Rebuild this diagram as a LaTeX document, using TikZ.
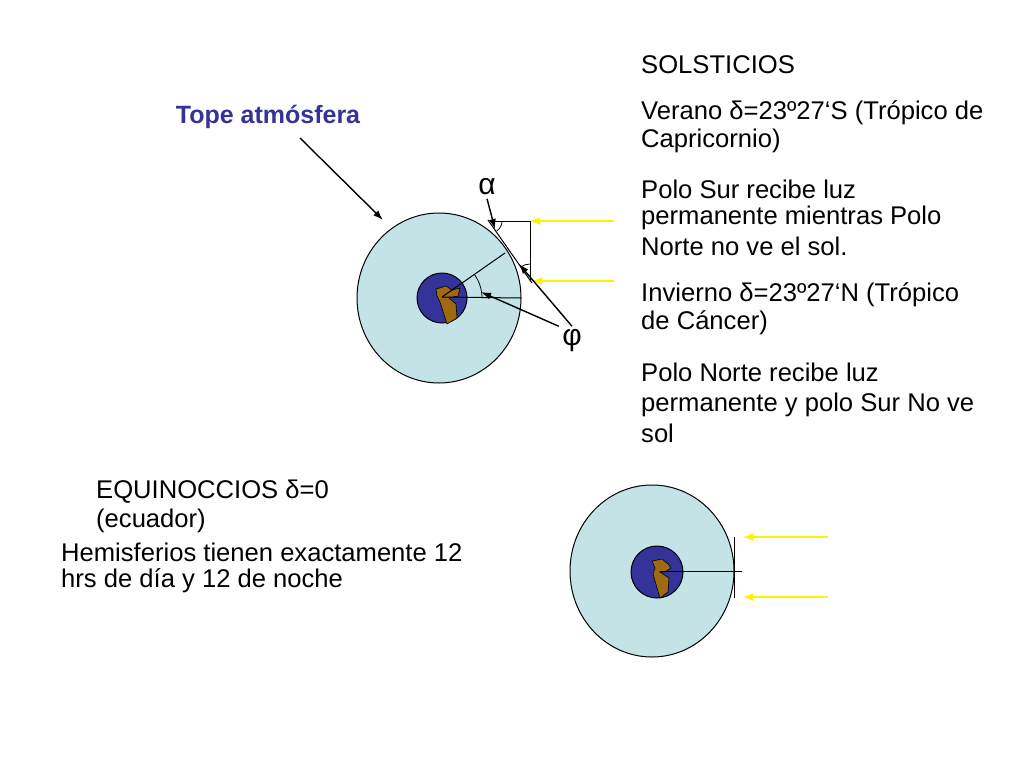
\documentclass[tikz,border=0pt]{standalone}
\usepackage{fontspec}
\setmainfont{Liberation Sans}
\usetikzlibrary{arrows.meta}
\definecolor{atmc}{HTML}{C4E3E6}
\definecolor{corec}{HTML}{33339A}
\definecolor{landc}{HTML}{A06A10}
\definecolor{topec}{HTML}{333399}
\newcommand{\bq}{\symbol{"60}}
\begin{document}
\begin{tikzpicture}[x=1pt,y=-1pt,
 atm/.style={draw=black,fill=atmc,line width=1pt},
 core/.style={draw=black,fill=corec,line width=1pt},
 land/.style={draw=black,fill=landc,line width=0.6pt},
 ray/.style={yellow,line width=1.4pt,-{Latex[length=10pt,width=8pt]}},
 ptr/.style={black,line width=1.4pt,-{Latex[length=10pt,width=7pt]}},
 txt/.style={anchor=west,font=\fontsize{25.6}{28}\selectfont,inner sep=0pt}]
\useasboundingbox (0,0) rectangle (1024,768);
% first earth
\draw[atm] (439,298) ellipse [x radius=82,y radius=85];
\draw[core] (442,298) circle (25);
\draw[land] (436,289) -- (446,286) -- (452,290) -- (460,288) -- (458,296) -- (449,298) -- (456,304) -- (457,318) -- (447,324) -- (440,302) -- (437,296) -- cycle;
\coordinate (c1) at (442,297);
\draw[line width=1pt] (c1) -- (505,253);
\draw[line width=1pt] (c1) -- (521,298);
\draw[line width=1pt] (488,220) -- (532,283);
\draw[line width=1pt] (490,221) -- (530,221) -- (530,281);
\draw[line width=0.8pt] (482,298) arc[start angle=0,end angle=-35,radius=40];
\draw[line width=0.8pt] (502,221) arc[start angle=0,end angle=55,radius=12];
\draw[line width=0.8pt] (530,264) arc[start angle=270,end angle=235,radius=16];
\coordinate (r1) at (614,221); \coordinate (t1) at (530,221);
\coordinate (r2) at (614,281); \coordinate (t2) at (532,281);
\draw[ray] (r1) -- (t1);
\draw[ray] (r2) -- (t2);
\node (alpha) at (487,187) {\fontsize{30}{30}\selectfont α};
\coordinate (at) at (495,229);
\draw[ptr] (alpha.south) -- (at);
\node (phi) at (572,341) {\fontsize{30}{30}\selectfont φ};
\coordinate (p1) at (481,292); \coordinate (p2) at (519,264);
\draw[ptr] (phi.north west) -- (p1);
\draw[ptr] (phi.north) -- (p2);
\node[font=\fontsize{25}{28}\selectfont\bfseries,text=topec] (tope) at (268,117) {Tope atmósfera};
\coordinate (tt) at (383,220);
\draw[ptr] (300,138) -- (tt);
% second earth
\draw[atm] (652,571) ellipse [x radius=82,y radius=86];
\draw[core] (657,572) circle (26);
\draw[land] (652,561) -- (662,559) -- (668,564) -- (671,568) -- (665,572) -- (660,572) -- (669,578) -- (668,592) -- (660,598) -- (653,574) -- (655,568) -- cycle;
\draw[line width=1pt] (660,571) -- (742,571);
\draw[line width=1pt] (734,537) -- (734,598);
\coordinate (r3) at (828,537); \coordinate (t3) at (743,537);
\coordinate (r4) at (828,597); \coordinate (t4) at (743,597);
\draw[ray] (r3) -- (t3);
\draw[ray] (r4) -- (t4);
% texts
\node[txt] (s0) at (641,65) {SOLSTICIOS};
\node[txt] (s1) at (641,113) {Verano δ=23º27\bq S (Trópico de};
\node[txt] (s2) at (641,141) {Capricornio)};
\node[txt] (s3) at (641,189) {Polo Sur recibe luz};
\node[txt] (s4) at (641,218) {permanente mientras Polo};
\node[txt] (s5) at (641,246) {Norte no ve el sol.};
\node[txt] (s6) at (641,295) {Invierno δ=23º27\bq N (Trópico};
\node[txt] (s7) at (641,323) {de Cáncer)};
\node[txt] (s8) at (641,372) {Polo Norte recibe luz};
\node[txt] (s9) at (641,405) {permanente y polo Sur No ve};
\node[txt] (s10) at (641,433) {sol};
\node[txt] (e1) at (96,492) {EQUINOCCIOS δ=0};
\node[txt] (e2) at (96,521) {(ecuador)};
\node[txt] (e3) at (61,552) {Hemisferios tienen exactamente 12};
\node[txt] (e4) at (61,581) {hrs de día y 12 de noche};
\end{tikzpicture}
\end{document}
